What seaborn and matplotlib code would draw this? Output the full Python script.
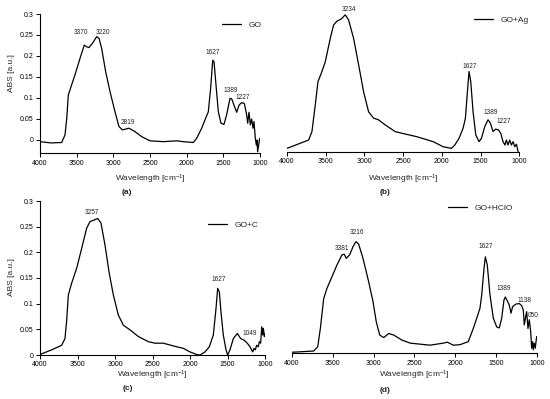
import matplotlib
matplotlib.use("Agg")
import matplotlib.pyplot as plt
import seaborn as sns
import pandas as pd
from matplotlib.ticker import FuncFormatter

# ---------------- data ----------------
wn_a = [4000, 3850, 3705, 3659, 3636, 3614, 3577, 3523, 3455, 3396, 3364, 3333, 3286, 3227, 3195,
        3159, 3105, 3045, 2977, 2923, 2877, 2832, 2786, 2705, 2614, 2500, 2318, 2136, 2045, 1909,
        1864, 1795, 1750, 1705, 1673, 1645, 1627, 1600, 1568, 1532, 1491, 1455, 1409, 1386, 1355,
        1318, 1286, 1250, 1214, 1182, 1168, 1150, 1132, 1114, 1095, 1082, 1064, 1050, 1041, 1032,
        1018, 1005]
abs_a = [-0.004, -0.007, -0.006, 0.012, 0.050, 0.107, 0.127, 0.155, 0.194, 0.226, 0.222, 0.220, 0.230, 0.246, 0.242,
         0.218, 0.163, 0.115, 0.067, 0.032, 0.024, 0.026, 0.028, 0.020, 0.008, -0.002, -0.004, -0.002, -0.004, -0.006,
         0.004, 0.028, 0.048, 0.067, 0.123, 0.190, 0.186, 0.131, 0.067, 0.040, 0.037, 0.060, 0.099, 0.098, 0.083,
         0.066, 0.083, 0.089, 0.087, 0.060, 0.040, 0.066, 0.036, 0.050, 0.028, 0.044, 0.004, -0.012, 0.000, -0.028,
         -0.012, 0.004]

wn_b = [4000, 3720, 3678, 3635, 3600, 3557, 3506, 3441, 3398, 3355, 3300, 3248, 3205, 3140, 3075,
        3011, 2946, 2882, 2818, 2732, 2603, 2517, 2327, 2113, 1984, 1876, 1833, 1778, 1726, 1696,
        1670, 1649, 1627, 1597, 1562, 1519, 1489, 1446, 1404, 1373, 1339, 1305, 1270, 1240, 1210,
        1185, 1167, 1146, 1124, 1102, 1080, 1059, 1037, 1015]
abs_b = [-0.020, 0.000, 0.020, 0.083, 0.139, 0.159, 0.186, 0.242, 0.274, 0.283, 0.288, 0.298, 0.286, 0.242, 0.179,
         0.115, 0.067, 0.052, 0.048, 0.036, 0.020, 0.016, 0.008, -0.004, -0.016, -0.020, -0.012, 0.004, 0.028, 0.052,
         0.115, 0.163, 0.139, 0.067, 0.012, -0.004, 0.004, 0.032, 0.048, 0.040, 0.020, 0.026, 0.024, 0.016, -0.004,
         -0.012, 0.000, -0.012, 0.000, -0.012, -0.004, -0.016, -0.010, -0.028]

wn_c = [4000, 3844, 3711, 3667, 3645, 3622, 3578, 3511, 3444, 3378, 3333, 3276, 3231, 3187, 3133,
        3080, 3022, 2956, 2889, 2800, 2689, 2556, 2467, 2356, 2178, 2089, 2000, 1911, 1867, 1800,
        1742, 1689, 1653, 1631, 1609, 1587, 1556, 1520, 1498, 1467, 1422, 1369, 1324, 1280, 1236,
        1200, 1164, 1147, 1129, 1111, 1089, 1076, 1058, 1044, 1031, 1022, 1009, 1000]
abs_c = [0.001, 0.010, 0.019, 0.032, 0.066, 0.117, 0.140, 0.169, 0.208, 0.247, 0.260, 0.263, 0.266, 0.257, 0.214,
         0.162, 0.117, 0.078, 0.058, 0.049, 0.036, 0.026, 0.023, 0.023, 0.016, 0.013, 0.006, 0.001, 0.000, 0.006,
         0.016, 0.039, 0.091, 0.130, 0.123, 0.084, 0.039, 0.010, 0.000, 0.010, 0.032, 0.042, 0.032, 0.029, 0.023,
         0.016, 0.006, 0.013, 0.010, 0.019, 0.016, 0.026, 0.023, 0.055, 0.039, 0.052, 0.036, 0.042]

wn_d = [4000, 3731, 3682, 3650, 3609, 3569, 3508, 3447, 3386, 3358, 3333, 3292, 3251, 3215, 3182,
        3129, 3060, 3007, 2967, 2925, 2876, 2815, 2754, 2653, 2551, 2311, 2148, 2100, 2026, 1944,
        1843, 1782, 1740, 1700, 1679, 1651, 1635, 1611, 1578, 1537, 1496, 1464, 1435, 1407, 1391,
        1366, 1342, 1321, 1301, 1260, 1220, 1191, 1171, 1159, 1142, 1130, 1114, 1098, 1081, 1069,
        1057, 1049, 1037, 1025, 1008]
abs_d = [0.002, 0.0045, 0.013, 0.049, 0.108, 0.128, 0.151, 0.174, 0.194, 0.195, 0.187, 0.194, 0.210, 0.220, 0.215,
         0.187, 0.141, 0.102, 0.062, 0.036, 0.031, 0.039, 0.036, 0.026, 0.020, 0.016, 0.020, 0.022, 0.016, 0.017,
         0.023, 0.049, 0.069, 0.089, 0.115, 0.167, 0.190, 0.174, 0.115, 0.069, 0.052, 0.050, 0.069, 0.105, 0.111,
         0.103, 0.095, 0.079, 0.092, 0.097, 0.098, 0.094, 0.085, 0.056, 0.072, 0.082, 0.049, 0.066, 0.043, 0.010,
         0.023, 0.007, 0.020, 0.010, 0.033]

series_names = ["GO", "GO+Ag", "GO+C", "GO+HClO"]
panel_letters = ["(a)", "(b)", "(c)", "(d)"]

peak_text_a = ["3370", "3220", "2819", "1627", "1389", "1227"]
peak_x_a = [3445, 3141, 2800, 1643, 1405, 1232]
peak_y_a = [0.256, 0.256, 0.041, 0.208, 0.119, 0.102]

peak_text_b = ["3234", "1627", "1389", "1227"]
peak_x_b = [3203, 1636, 1367, 1203]
peak_y_b = [0.311, 0.175, 0.065, 0.044]

peak_text_c = ["3257", "1627", "1049"]
peak_x_c = [3307, 1618, 1200]
peak_y_c = [0.278, 0.148, 0.041]

peak_text_d = ["3381", "3216", "1627", "1389", "1138", "050"]
peak_x_d = [3385, 3208, 1635, 1409, 1157, 1049]
peak_y_d = [0.207, 0.237, 0.211, 0.128, 0.104, 0.074]

x_ticks = [4000, 3500, 3000, 2500, 2000, 1500, 1000]
y_ticks = [0, 0.05, 0.1, 0.15, 0.2, 0.25, 0.3]

# ---------------- style ----------------
sns.set_style("ticks")
plt.rcParams["font.family"] = ["Liberation Sans", "DejaVu Sans"]
plt.rcParams["mathtext.default"] = "regular"

W, H = 550, 399
fig = plt.figure(figsize=(W / 100, H / 100), dpi=100)


def add_ax(l, r, t, b):
    return fig.add_axes([l / W, 1 - b / H, (r - l) / W, (b - t) / H])


panels = [
    dict(box=(40, 260, 14, 153.3), ylim=(-0.0317, 0.3), yaxis=True, wn=wn_a, ab=abs_a,
         pt=peak_text_a, px=peak_x_a, py=peak_y_a, leg=(0.827, 0.924), xl=-0.184, yl=(-0.129, 0.574),
         letter=(127, 193)),
    dict(box=(287, 519.3, 14, 151.7), ylim=(-0.0279, 0.3), yaxis=False, wn=wn_b, ab=abs_b,
         pt=peak_text_b, px=peak_x_b, py=peak_y_b, leg=(0.805, 0.956), xl=-0.198, yl=None,
         letter=(385.5, 193)),
    dict(box=(40, 265, 201, 355), ylim=(0, 0.3), yaxis=True, wn=wn_c, ab=abs_c,
         pt=peak_text_c, px=peak_x_c, py=peak_y_c, leg=(0.747, 0.844), xl=-0.134, yl=(-0.126, 0.506),
         letter=(128, 389)),
    dict(box=(291.7, 537.3, 201, 353.3), ylim=(0, 0.3), yaxis=False, wn=wn_d, ab=abs_d,
         pt=peak_text_d, px=peak_x_d, py=peak_y_d, leg=(0.637, 0.954), xl=-0.147, yl=None,
         letter=(385, 391)),
]

for i, p in enumerate(panels):
    ax = add_ax(*p["box"])
    df = pd.DataFrame({"Wavenumber": p["wn"], "ABS": p["ab"]})
    sns.lineplot(data=df, x="Wavenumber", y="ABS", sort=False, estimator=None,
                 color="black", linewidth=0.9, label=series_names[i], ax=ax)
    ax.set_xlim(4000, 1000)
    ax.set_ylim(*p["ylim"])
    ax.set_xticks(x_ticks)
    ax.tick_params(axis="both", direction="out", length=3, width=0.7, labelsize=5,
                   pad=1.5, colors="black")
    for s in ["top", "right"]:
        ax.spines[s].set_visible(False)
    ax.spines["bottom"].set_linewidth(0.8)
    ax.spines["bottom"].set_color("black")
    if p["yaxis"]:
        ax.set_yticks(y_ticks)
        ax.yaxis.set_major_formatter(FuncFormatter(lambda v, pos: f"{v:g}"))
        ax.spines["left"].set_linewidth(0.8)
        ax.spines["left"].set_color("black")
        ax.set_ylabel("ABS [a.u.]", fontsize=6)
        ax.yaxis.set_label_coords(*p["yl"])
        ax.yaxis.label.set_va("center")
    else:
        ax.spines["left"].set_visible(False)
        ax.set_yticks([])
        ax.set_ylabel("")
    ax.set_xlabel("Wavelength [cm$^{-1}$]", fontsize=6)
    ax.xaxis.set_label_coords(0.5, p["xl"])
    ax.xaxis.label.set_va("center")

    for t, x, y in zip(p["pt"], p["px"], p["py"]):
        ax.text(x, y, t, fontsize=4.7, ha="center", va="center", color="#222222")

    ax.legend(loc="center left", bbox_to_anchor=p["leg"], frameon=False, fontsize=6,
              handlelength=2.3, handletextpad=0.85, borderpad=0, borderaxespad=0)

    lx, ly = p["letter"]
    fig.text(lx / W, 1 - ly / H, panel_letters[i], fontsize=6, fontweight="bold",
             ha="center", va="center")

fig.savefig("out.png", dpi=100)
